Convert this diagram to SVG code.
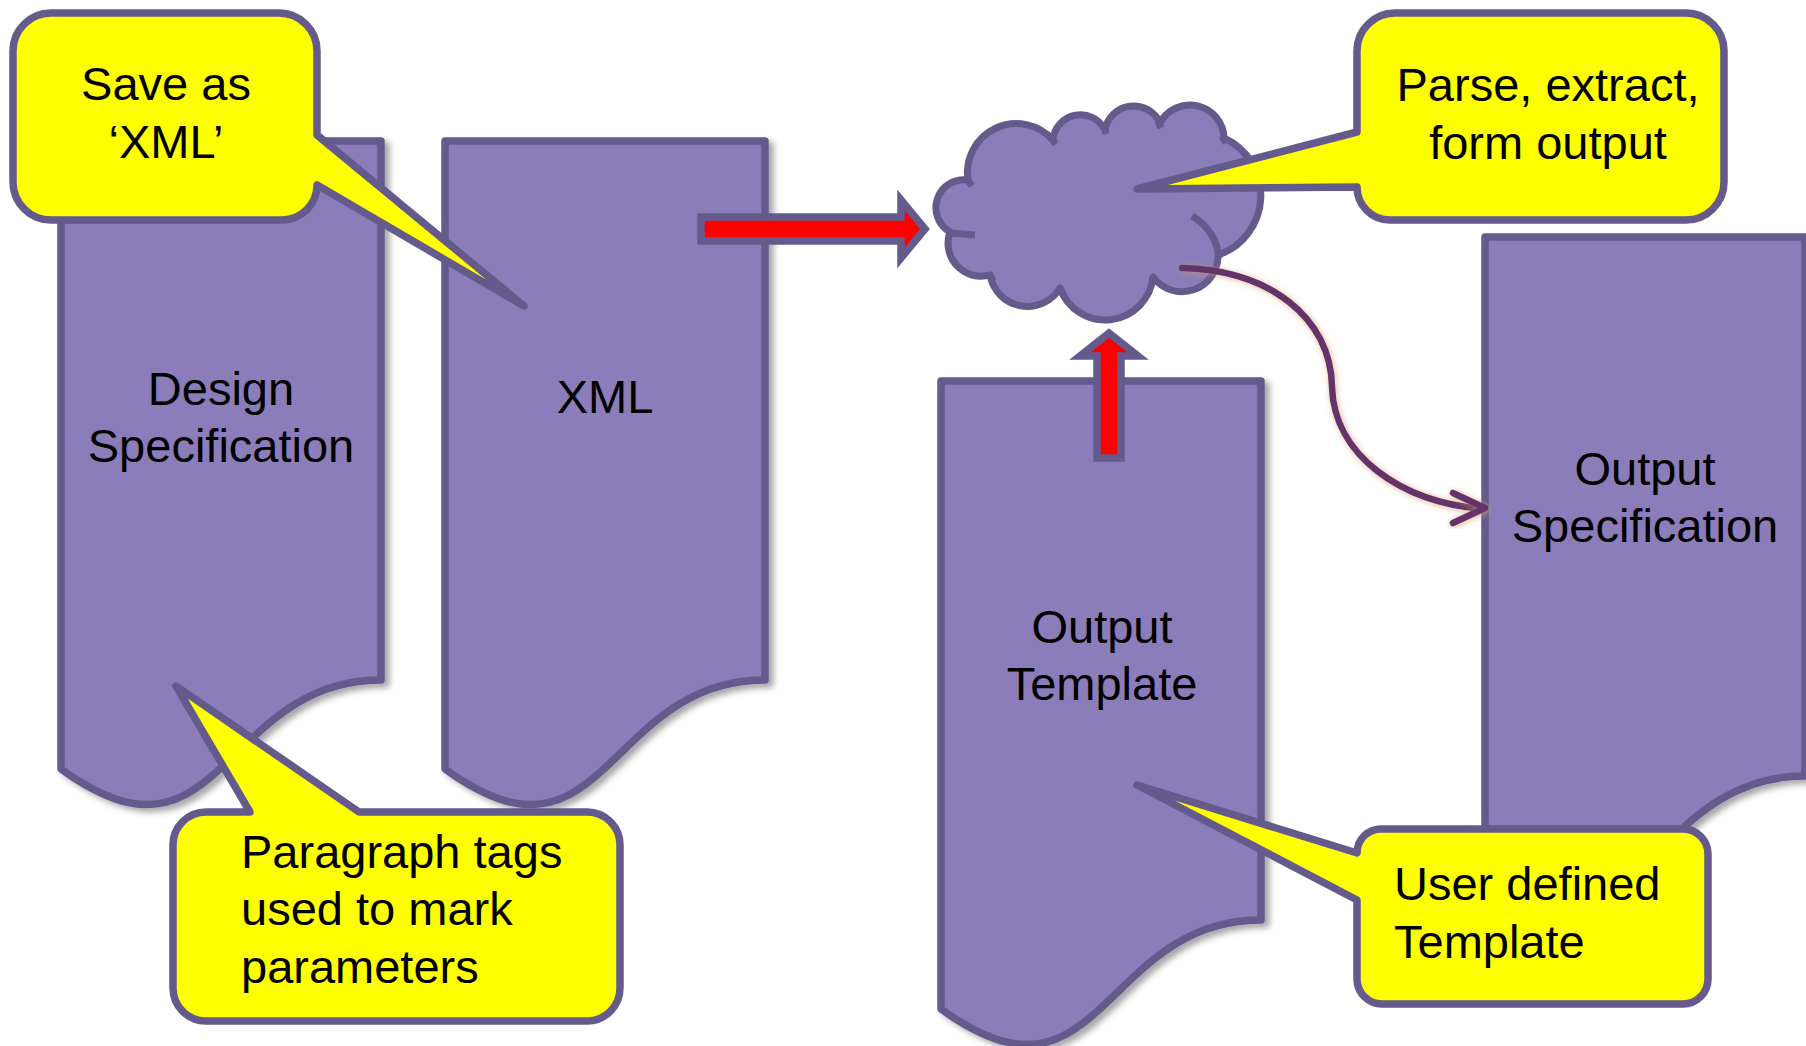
<svg xmlns="http://www.w3.org/2000/svg" width="1806" height="1046" viewBox="0 0 1806 1046">
<style>
.doc{fill:#8A7DB9;stroke:#655A8C;stroke-width:7.5;stroke-linejoin:round;filter:url(#sh)}
.call{fill:#FFFF00;stroke:#655A8C;stroke-width:7.5;stroke-linejoin:round}
.red{fill:#FF0000;stroke:#655A8C;stroke-width:7.5;stroke-linejoin:miter}
.t{font-family:"Liberation Sans",Arial,sans-serif;font-size:47px;fill:#000}
.m{text-anchor:middle}
.tick{fill:none;stroke:#655A8C;stroke-width:7;stroke-linecap:butt}
.cv{fill:none;stroke:#66336A;stroke-width:6.5;stroke-linecap:round;stroke-linejoin:round;filter:url(#glow)}
</style>
<defs>
<filter id="sh" x="-10%" y="-10%" width="130%" height="130%">
<feDropShadow dx="5" dy="4" stdDeviation="3" flood-color="#000" flood-opacity="0.35"/>
</filter>
<filter id="glow" x="-20%" y="-20%" width="140%" height="140%">
<feDropShadow dx="1" dy="1" stdDeviation="3" flood-color="#C89A6E" flood-opacity="0.7"/>
</filter>
</defs>
<rect width="1806" height="1046" fill="#FFFFFF"/>

<g id="design-spec">
<path class="doc" d="M61,141 H381 V680 C221,680 221,885 61,769 Z"/>
<text class="t m" x="221" y="405">Design</text>
<text class="t m" x="221" y="462">Specification</text>
</g>

<g id="xml-doc">
<path class="doc" d="M445,141 H765 V680 C605,680 605,885 445,769 Z"/>
<text class="t m" x="605" y="413">XML</text>
</g>

<g id="output-template">
<path class="doc" d="M941,381 H1261 V920 C1101,920 1101,1125 941,1009 Z"/>
<text class="t m" x="1102" y="643">Output</text>
<text class="t m" x="1102" y="700">Template</text>
</g>

<g id="output-spec">
<path class="doc" d="M1485,237 H1805 V776 C1645,776 1645,981 1485,865 Z"/>
<text class="t m" x="1645" y="485">Output</text>
<text class="t m" x="1645" y="542">Specification</text>
</g>

<g id="process-cloud">
<path fill="#8A7DB9" stroke="#655A8C" stroke-width="7" stroke-linejoin="round" d="M968,180 A49,49 0 0 1 1053,140 A27.5,27.5 0 0 1 1105,130 A29,29 0 0 1 1160,123 A34,34 0 0 1 1224,138 A63,63 0 0 1 1218,255 A36,36 0 0 1 1153,277 A48,48 0 0 1 1060,288 A38,38 0 0 1 990,275 A33,33 0 0 1 950,232 A28,28 0 0 1 968,180 Z"/>
<path class="tick" d="M1192,216 Q1216,230 1219,258"/>
<path class="tick" d="M950,233 L975,235"/>
<path class="tick" d="M967,179 L972,186"/>
<path class="tick" d="M1050,137 L1056,144"/>
<path class="tick" d="M1104,127 L1106,134"/>
<path class="tick" d="M1158,121 L1161,128"/>
<path class="tick" d="M1222,136 L1226,143"/>
<path class="tick" d="M1153,277 L1154,284"/>
<path class="tick" d="M1060,288 L1064,296"/>
<path class="tick" d="M989,273 L993,281"/>
</g>

<g id="connectors">
<path class="red" d="M701,217 H901 V200 L925,229 L901,258 V241 H701 Z"/>
<path class="red" d="M1097,458 V356 H1080 L1109,333 L1138,356 H1121 V458 Z"/>
<path class="cv" d="M1182,268 C1270,270 1331,318 1332,387 C1334,455 1400,502 1483,509"/>
<path class="cv" d="M1453,493 L1485,508 L1453,523"/>
</g>

<g id="callout-save">
<path class="call" d="M51,13 H279 A38,38 0 0 1 317,51 V135 L524,306 L317,185 A35,35 0 0 1 282,220 H51 A38,38 0 0 1 13,182 V51 A38,38 0 0 1 51,13 Z"/>
<text class="t m" x="166" y="100">Save as</text>
<text class="t m" x="166" y="158">‘XML’</text>
</g>

<g id="callout-parse">
<path class="call" d="M1395,13 H1686 A38,38 0 0 1 1724,51 V182 A38,38 0 0 1 1686,220 H1390 A33,33 0 0 1 1357,187 L1137,189 L1357,132 V51 A38,38 0 0 1 1395,13 Z"/>
<text class="t m" x="1548" y="101">Parse, extract,</text>
<text class="t m" x="1548" y="159">form output</text>
</g>

<g id="callout-paragraph">
<path class="call" d="M206,812 H250 L176,686 L359,812 H587 A33,33 0 0 1 620,845 V988 A33,33 0 0 1 587,1021 H206 A33,33 0 0 1 173,988 V845 A33,33 0 0 1 206,812 Z"/>
<text class="t" x="241" y="868">Paragraph tags</text>
<text class="t" x="241" y="925">used to mark</text>
<text class="t" x="241" y="983">parameters</text>
</g>

<g id="callout-user">
<path class="call" d="M1382,829 H1683 A25,25 0 0 1 1708,854 V979 A25,25 0 0 1 1683,1004 H1382 A25,25 0 0 1 1357,979 V900 L1137,785 L1357,853 A24,24 0 0 1 1382,829 Z"/>
<text class="t" x="1394" y="900">User defined</text>
<text class="t" x="1394" y="958">Template</text>
</g>
</svg>
